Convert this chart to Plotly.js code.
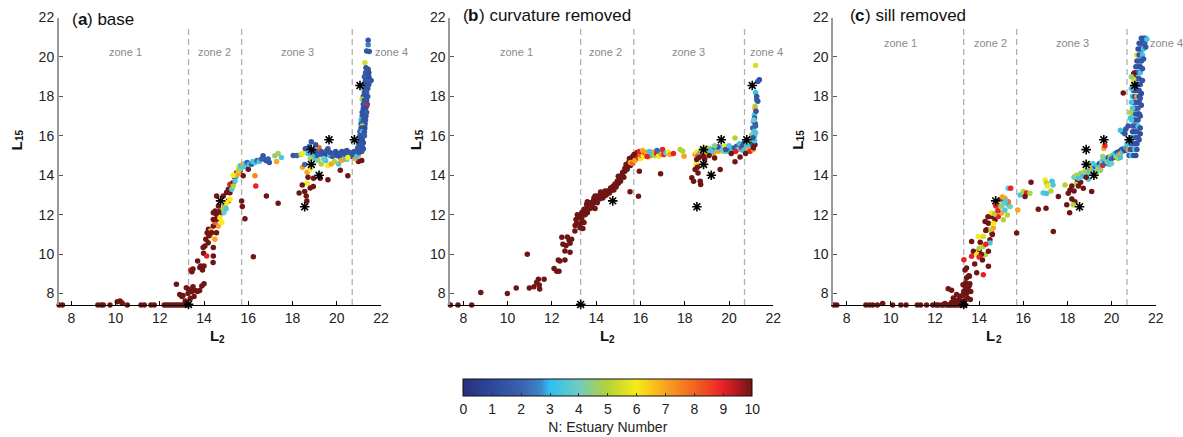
<!DOCTYPE html>
<html><head><meta charset="utf-8">
<script src="https://cdn.plot.ly/plotly-3.0.1.min.js"></script>
<style>html,body{margin:0;padding:0;background:#fff}#c{width:1183px;height:437px}</style>
</head><body><div id="c"></div>
<script>
// ---------- DATA ----------
const xTicks = [8,10,12,14,16,18,20,22];
const yTicks = [8,10,12,14,16,18,20,22];
const nTicks = [0,1,2,3,4,5,6,7,8,9,10];
const zoneBounds = [13.3, 15.7, 20.7];
const zoneLabels = ['zone 1','zone 2','zone 3','zone 4'];
const panelLetters = ['a','b','c'];
const panelNames = ['base','curvature removed','sill removed'];
const xTitle = ['L','2'];
const yTitle = ['L','15'];
const cbTitle = 'N: Estuary Number';
const colorStops = [[0,'#27307f'],[0.1,'#2d489b'],[0.2,'#3a62ad'],[0.27,'#3e86c9'],[0.3,'#2fc0f0'],[0.4,'#70cbc2'],[0.5,'#b3d336'],[0.6,'#f7ea1a'],[0.7,'#f8a41e'],[0.8,'#f26522'],[0.9,'#e82127'],[1,'#701515']];
// reference estuaries (stars), [L2, L15]
const starPts = [[13.3,7.45],[14.75,12.7],[18.55,12.4],[18.85,14.55],[18.85,15.3],[19.2,14.0],[19.65,15.8],[20.8,15.8],[21.05,18.55]];

// panel (a): [L2, L15, N]
const basePts = [
[7.45,7.42,10],[7.6,7.42,10],[9.2,7.42,10],[9.35,7.42,10],[9.45,7.42,10],[9.75,7.42,10],[10.08,7.58,10],[10.2,7.62,10],[10.3,7.52,10],[10.53,7.42,10],[11.15,7.42,10],[11.3,7.42,10],[11.6,7.42,10],[11.75,7.42,10],[12.2,7.42,10],[12.3,7.42,10],[12.4,7.42,10],[12.5,7.42,10],[12.6,7.42,10],[12.7,7.42,10],[12.8,7.42,10],[12.9,7.42,10],[13.0,7.42,10],[13.1,7.42,10],[13.2,7.42,10],
[12.75,8.47,10],[12.9,7.95,10],[13.05,7.9,10],[13.0,7.85,10],[13.15,7.62,10],[13.2,8.3,10],[13.28,8.0,10],[13.3,8.22,10],[13.38,7.75,10],[13.45,8.1,10],[13.5,8.35,10],[13.55,7.85,10],[13.6,8.15,10],[13.7,8.1,10],[13.8,8.15,10],[13.9,8.38,10],[14.0,8.5,10],
[13.4,9.2,9],[13.5,9.25,10],[13.45,9.1,10],[13.71,9.65,10],[13.81,9.32,10],[13.93,9.2,10],[14.0,9.4,10],[13.85,9.4,10],[13.96,10.33,10],[14.04,10.41,10],[13.98,10.05,10],[14.12,9.9,9],[14.42,10.33,10],[14.42,9.9,10],[14.41,9.57,10],[14.08,10.75,10],[14.19,10.58,10],[14.27,10.92,7],[14.2,11.26,10],[14.3,11.18,7],[14.49,10.75,7],[14.57,11.09,6],[14.64,11.43,7],[14.42,11.43,10],[14.14,11.08,10],[14.22,10.95,10],[14.34,11.08,10],[14.56,11.08,10],[14.5,11.6,8],[14.57,11.77,10],[14.42,11.76,10],[14.56,12.01,10],[14.42,12.1,10],[14.5,12.19,10],[14.65,12.44,10],[14.57,12.95,10],[14.72,12.18,10],[14.8,12.1,10],[14.87,12.95,10],[15.02,13.12,10],[15.1,13.29,10],[15.17,13.54,9],[15.32,13.63,10],[15.4,13.88,10],[15.77,13.97,10],[14.94,12.43,10],[15.09,12.69,10],[15.17,13.11,10],[15.24,13.36,10],[15.47,14.12,10],[15.62,14.22,10],
[14.72,11.85,6],[14.87,12.27,5],[14.95,12.44,5],[15.02,12.61,6],[15.17,12.78,6],[14.8,11.6,6],[14.9,12.1,4],[15.0,12.3,3.5],[15.25,13.29,3.5],[15.32,13.46,5],[15.4,13.71,3.5],[15.47,13.97,3.5],[15.55,14.14,7],[15.5,14.05,7],[15.32,14.0,6],[15.58,14.26,6],[15.56,14.4,6],[15.7,14.39,3.5],[15.6,14.3,4.5],[15.65,14.5,3.3],[15.75,14.55,7],[15.8,14.45,3.5],[15.85,14.6,4],[15.92,14.48,3.5],[16.0,14.3,10],[15.95,14.65,2],[16.05,14.55,3.3],[16.15,14.56,1.8],[16.2,14.7,3.5],[16.3,14.65,3.3],[16.4,14.75,2],[16.5,14.7,3.5],[16.6,14.82,1.8],[16.67,14.99,1.5],[16.75,14.8,2],[16.82,14.73,1.5],[16.9,14.82,1.8],[16.95,14.65,1.5],[17.2,14.99,4.5],[17.35,15.1,4.8],[17.28,14.7,7],[17.5,14.9,3.5],
[16.3,13.97,7.5],[16.34,13.46,9],[16.82,12.95,10],[17.35,12.58,10],[15.7,12.69,10],[15.73,12.41,10],[15.85,11.8,10],[16.23,9.87,10],
[18.45,14.4,7],[18.66,14.15,7],[18.8,14.3,6],[18.66,13.6,6],[18.44,13.5,10],[18.3,13.1,10],[18.55,13.18,10],[18.62,12.95,10],[18.65,12.7,10],[18.8,13.35,10],[18.94,13.43,10],[18.95,13.85,10],[19.25,13.85,10],[19.6,13.77,10],[20.16,14.25,10],[20.5,13.97,10],[20.98,14.7,10],[21.13,14.75,10],[18.7,13.9,10],
[18.03,15.0,1.5],[18.2,15.0,1.8],[18.38,15.05,5],[18.44,15.1,6],[18.55,14.55,2],[18.58,15.35,1.5],[18.75,15.44,1.5],[18.7,15.1,3.3],[18.94,15.27,1.5],[19.0,14.85,3.5],[19.1,15.0,1.5],[19.2,15.4,8],[19.3,14.57,5],[19.38,15.0,1.5],[19.5,15.1,1.8],[19.6,14.5,6],[19.75,14.57,7],[19.68,15.0,3.3],[19.85,15.1,1.5],[20.0,15.0,1.5],[20.08,14.57,3.5],[20.16,14.9,1.5],[20.23,15.2,1.5],[20.38,15.05,1.5],[20.46,14.8,4.5],[20.53,15.1,1.5],[20.68,14.95,1.5],[20.83,14.85,7],[20.91,15.1,6],[20.98,15.0,7],[21.06,15.35,1.5],[21.13,15.2,1.5],[21.2,15.35,1.5],
[18.9,15.05,1.2],[19.05,15.2,1.5],[19.2,15.05,1.8],[19.3,15.2,1.5],[19.45,15.0,1.2],[19.55,15.25,1.5],[19.7,15.15,1.5],[19.8,14.95,1.8],[19.95,15.2,1.5],[20.05,15.1,1.2],[20.15,15.05,1.5],[20.3,15.15,1.5],[20.45,15.0,1.5],[20.6,15.15,1.8],[20.7,15.05,1.5],[20.8,15.2,1.5],[20.9,14.95,3.3],[21.0,15.15,1.5],[19.15,14.75,4.5],[19.5,14.75,3.3],[19.9,14.7,5],[20.3,14.8,3.5],[20.2,14.75,7],[18.9,14.95,3.2],[18.8,14.85,4.8],[19.4,14.85,4],[19.6,15.35,1.5],[18.85,15.7,1.5],[19.05,15.55,1.5],[20.45,15.25,1.5],[20.5,14.9,6],
[21.42,20.84,1.5],[21.42,20.62,2.5],[21.35,20.3,1.5],[21.47,20.27,1.5],[21.27,19.7,5.5],[21.32,19.45,1.5],[21.42,19.37,1.5],[21.45,19.2,1.2],[21.3,19.2,1.5],[21.35,19.03,1.5],[21.25,19.0,1.8],[21.45,19.0,1.5],[21.47,18.86,1.2],[21.55,18.8,1.5],[21.3,18.8,1.5],[21.4,18.75,1.8],[21.25,18.6,1.5],[21.35,18.6,1.2],[21.45,18.6,1.5],[21.2,18.4,4.5],[21.3,18.4,1.5],[21.4,18.4,1.5],[21.25,18.2,1.5],[21.35,18.2,1.8],[21.2,18.0,1.5],[21.3,18.0,1.2],[21.4,18.0,1.5],[21.15,17.85,5],[21.25,17.8,1.5],[21.35,17.8,1.5],[21.2,17.6,1.5],[21.3,17.6,1.8],[21.38,17.6,1.5],[21.35,17.5,9],[21.2,17.4,1.5],[21.3,17.4,1.2],[21.15,17.2,1.5],[21.25,17.2,1.5],[21.35,17.2,1.8],[21.15,17.0,1.5],[21.25,17.0,1.2],[21.32,17.0,1.5],[21.1,16.8,3.2],[21.2,16.8,1.5],[21.3,16.8,1.5],[21.1,16.6,1.5],[21.2,16.6,1.8],[21.28,16.6,1.5],[21.15,16.5,5],[21.1,16.4,1.5],[21.2,16.4,1.5],[21.27,16.4,1.2],[21.05,16.2,1.5],[21.15,16.2,3.3],[21.25,16.2,1.5],[21.05,16.0,1.5],[21.15,16.0,1.5],[21.25,16.0,1.8],[21.05,15.8,1.5],[21.15,15.8,1.5],[21.2,15.65,1.2],[21.0,15.6,1.5],[21.1,15.6,1.5],[20.95,15.4,1.5],[21.05,15.45,1.8],[21.15,15.45,1.5]
];

// panel (b): [L2, L15, N]
const curvPts = [
[7.42,7.42,10],[7.76,7.42,10],[8.38,7.42,10],[8.79,8.05,10],[9.99,8.0,10],[10.39,8.28,10],[10.89,9.99,10],[10.98,8.28,10],[11.19,8.35,10],[11.31,8.56,10],[11.39,8.73,10],[11.43,8.44,10],[11.45,8.23,10],[11.65,8.73,10],[12.1,9.27,10],[12.22,9.13,10],[12.32,9.13,10],[12.29,9.7,10],[12.36,9.65,10],[12.59,9.7,10],[12.59,10.16,10],[12.82,10.1,10],[12.5,10.5,10],[12.45,10.85,10],[12.7,10.87,10],[12.78,10.7,10],[12.82,10.55,10],[12.64,10.44,10],[12.89,10.75,10],[13.04,11.17,10],[13.27,11.34,10],[13.09,11.76,10],[13.2,11.84,10],[13.35,12.1,10],[13.45,12.27,10],[13.57,12.52,10],[13.72,12.6,10],[13.87,12.69,10],[13.8,12.35,10],[13.95,12.32,10],[14.1,12.86,10],[14.25,12.94,10],[14.4,12.97,10],[14.55,13.11,10],[14.7,13.24,10],[14.78,13.45,10],[14.93,13.53,10],[15.08,13.78,10],[15.2,13.95,10],[15.3,14.2,10],[15.41,14.46,10],[15.5,14.71,10],[15.6,14.88,10],[15.71,15.05,10],[15.83,14.96,10],[15.53,13.16,10],[15.91,12.94,10],[15.95,14.2,10],[16.91,14.07,10],
[13.05,11.45,10],[13.12,11.55,10],[13.15,12.0,10],[13.25,11.95,10],[13.3,11.55,10],[13.35,11.8,10],[13.4,11.3,10],[13.45,11.6,10],[13.4,12.05,10],[13.5,12.0,10],[13.55,12.3,10],[13.6,12.1,10],[13.65,12.45,10],[13.7,12.3,10],[13.75,12.5,10],[13.85,12.55,10],[13.9,12.85,10],[14.0,12.75,10],[14.05,12.95,10],[14.15,12.8,10],[14.2,13.0,10],[14.3,12.85,10],[14.35,13.05,10],[14.45,13.0,10],[14.5,13.2,10],[14.6,13.1,10],[14.65,13.35,10],[14.75,13.4,10],[14.8,13.25,10],[14.85,13.55,10],[14.9,13.4,10],[14.95,13.7,10],[15.0,13.6,10],[15.05,13.85,10],[15.1,13.7,10],[15.15,14.0,10],[15.2,14.15,10],[15.25,13.9,10],[15.3,14.35,10],[15.35,14.55,10],[15.4,14.3,10],[15.45,14.6,10],[15.5,14.85,10],[15.55,14.5,10],[15.6,14.7,10],[15.65,14.95,10],[15.7,14.8,10],[15.75,15.0,10],[15.8,14.85,10],[14.2,13.15,10],[14.4,13.2,10],[13.6,12.65,10],[13.95,12.95,10],[15.0,13.95,10],[14.05,12.6,10],
[15.55,14.65,7],[15.65,14.6,8],[15.75,14.75,7],[15.85,15.15,10],[15.9,14.9,9],[15.98,15.13,7],[16.0,14.85,6],[16.05,15.0,8],[16.13,14.96,6],[16.2,15.15,9],[16.28,15.13,7],[16.36,14.93,6],[16.45,15.0,8],[16.51,15.05,3.5],[16.58,15.17,7],[16.65,15.0,5],[16.73,15.1,9],[16.81,14.96,6],[16.88,15.17,3.5],[16.95,15.05,7],[17.0,15.3,9],[17.06,15.05,9],[17.15,15.13,3.5],[17.26,15.17,6],[17.34,15.05,7],[17.49,15.1,9],[17.79,15.3,5],[17.91,15.22,5],[17.97,14.96,7],[15.95,15.2,9],[16.1,15.25,7],[16.3,14.95,9],[16.4,15.2,3.3],[16.75,15.25,2],
[18.47,15.05,7],[18.54,15.17,6],[18.6,15.0,8],[18.69,15.13,3.5],[18.8,15.05,9],[18.9,15.2,4],[18.99,15.39,5],[19.07,15.17,3.5],[19.15,15.35,4.5],[19.22,15.3,3.3],[19.3,15.1,7],[19.37,15.39,1.8],[19.45,15.25,3.5],[19.52,15.22,7],[19.6,15.35,3.3],[19.67,15.39,3.5],[19.75,15.2,4.5],[19.82,15.47,6],[19.9,15.22,3.3],[19.98,15.35,2],[20.05,15.39,1.8],[20.1,15.2,3.5],[20.17,15.3,3.3],[20.27,15.89,5],[20.25,15.4,1.5],[20.35,15.47,1.8],[20.4,15.3,3.5],[20.47,15.6,3.3],[20.5,15.3,4],[20.57,15.39,9],[20.62,15.5,1.5],[20.68,15.64,1.8],[20.75,15.35,3.5],[20.8,15.5,3.3],[20.85,15.3,7],[20.92,15.72,5],[20.95,15.22,9],[21.02,15.47,3.5],[21.05,15.6,1.5],[21.1,15.3,7],[21.1,15.4,10],[21.17,15.55,10],[21.15,15.75,3.3],[19.5,15.45,1.5],[19.2,15.2,3.5],[18.95,15.05,6],[19.85,15.3,1.5],[20.3,15.2,9],[20.65,15.25,3.3],[18.75,15.3,5],[19.35,15.5,4.5],[20.0,15.5,3.5],
[18.32,13.87,10],[18.4,13.7,10],[18.47,14.29,10],[18.6,14.12,10],[18.7,13.7,10],[18.72,13.53,10],[18.52,14.55,6],[18.9,14.83,10],[19.35,14.88,10],[19.6,14.29,10],[20.27,14.68,10],[20.5,14.93,10],[18.57,14.41,10],[18.54,14.8,10],[18.84,14.96,10],[18.65,14.9,10],[20.1,15.1,10],[20.75,15.1,10],[19.1,15.0,10],
[21.2,19.57,5.5],[21.37,18.84,1.2],[21.3,18.76,1.5],[21.2,18.2,3.2],[21.25,17.83,2],[21.3,17.75,1.5],[21.18,17.5,4.8],[21.18,17.36,7],[21.15,17.07,3.3],[21.15,16.9,1.8],[21.1,16.73,3.3],[21.18,16.62,1.5],[21.07,16.4,2],[21.13,16.23,3.3],[21.03,16.06,4.5],[21.15,15.98,3.3],[21.08,15.9,1.5],[21.2,16.5,2],[21.22,17.25,1.5],[21.25,18.0,1.5],[21.2,16.15,3.5],[21.12,16.8,4]
];

// panel (c): [L2, L15, N]
const sillPts = [
[7.42,7.42,10],[7.55,7.42,10],[8.87,7.42,10],[9.03,7.42,10],[9.18,7.42,10],[9.39,7.42,10],[9.63,7.5,10],[10.08,7.42,10],[10.45,7.42,10],[10.69,7.42,10],[11.2,7.42,10],[11.35,7.42,10],[11.62,7.42,10],[11.9,7.42,10],[12.05,7.42,10],[12.15,7.42,10],[12.3,7.42,10],[12.38,7.42,10],[12.53,7.42,10],[12.62,7.42,10],[12.7,7.42,10],[12.8,7.42,10],[12.9,7.42,10],[13.0,7.42,10],[13.1,7.42,10],[13.2,7.42,10],[13.35,7.42,10],[12.45,7.5,10],[12.75,7.55,10],[13.05,7.5,10],
[12.6,8.24,10],[12.75,8.17,10],[12.83,7.78,10],[12.98,7.95,10],[12.9,7.6,10],[13.13,7.87,10],[13.2,7.6,10],[13.1,7.7,10],[13.43,8.0,10],[13.5,8.2,10],[13.55,8.4,10],[13.58,8.5,10],[13.47,7.78,10],[13.27,8.45,10],[13.43,8.8,10],[13.53,8.9,10],[13.3,8.1,10],[13.35,7.65,10],[13.6,7.7,10],[13.38,8.3,10],[13.25,7.9,10],[13.62,8.1,10],[13.0,7.65,10],[13.4,8.55,10],
[13.31,9.72,9],[13.36,9.2,10],[13.43,9.3,10],[13.56,8.88,10],[13.66,9.89,9],[13.66,10.64,10],[13.74,10.14,10],[13.89,9.05,10],[13.96,10.9,6],[14.01,10.22,10],[13.9,10.0,6],[14.0,10.3,5],[14.19,10.9,5.5],[14.19,8.96,9],[14.27,9.97,5],[14.42,9.38,10],[14.42,10.14,10],[14.49,10.73,10],[14.57,11.07,9],[14.27,11.66,10],[14.42,11.57,10],[14.57,11.91,10],[14.72,11.74,10],[14.87,11.91,9],[15.02,12.08,7],[15.1,11.74,5],[15.17,12.24,3.5],[15.28,11.99,5],[15.32,12.5,3.5],[15.4,12.41,4],[15.32,13.34,3.5],[15.43,13.34,9],[14.8,12.41,7],[14.95,12.75,10],[15.17,12.83,7],[15.32,12.66,8],[14.57,12.08,6],[14.34,11.24,10],[14.64,11.32,7],[14.49,10.56,3.5],[14.19,10.39,5],[14.3,10.5,9],[14.1,10.0,10],[13.8,9.5,10],[14.0,9.85,9],[14.5,11.2,5],[14.65,11.55,6],[14.7,12.05,5],[14.85,12.2,9],[14.9,12.6,6],[15.0,12.4,4.5],[15.05,12.9,7],[15.1,12.55,4],[15.2,12.7,3.5],[14.4,11.9,10],[14.3,11.2,10],[14.05,10.6,10],[14.15,9.7,10],[14.6,11.0,10],[14.75,12.45,9],
[15.75,12.24,7],[15.7,11.07,10],[15.85,13.0,3.5],[16.0,13.17,5],[16.15,13.1,9],[16.3,13.09,5],[16.08,12.92,10],[16.35,13.64,10],[16.68,12.28,10],[17.03,12.33,10],[16.9,13.1,3.5],[17.05,13.07,3.3],[16.99,13.76,6],[17.05,13.6,5],[17.1,13.45,6],[17.3,13.7,3.3],[17.35,13.5,3.5],[17.25,13.2,5],[17.36,11.15,10],[17.59,12.92,10],[17.89,13.51,5],[17.97,12.5,10],[18.04,13.09,10],[18.12,13.25,10],[18.2,13.45,10],[18.3,13.2,10],[18.34,12.66,10],[18.27,12.5,5],[18.42,13.59,5],[18.5,13.45,10],[18.72,13.34,10],[19.1,13.17,10],[18.1,12.1,10],[18.2,12.8,10],[18.45,13.8,10],[18.6,13.65,10],
[18.3,13.9,4],[18.4,14.0,5],[18.5,13.85,3.5],[18.6,14.1,4.5],[18.7,13.95,3.2],[18.8,14.2,5],[18.9,14.05,4],[18.95,13.8,3.5],[19.0,14.25,3.3],[19.05,14.4,7],[19.1,14.15,4.5],[19.2,14.3,3.5],[19.25,14.45,2],[19.3,14.2,4],[19.35,14.5,3.2],[19.4,14.35,5],[19.45,14.6,1.5],[19.5,14.45,3.5],[19.55,14.7,4],[19.6,14.5,9],[19.65,14.75,3.3],[19.7,14.6,2],[19.75,14.85,3.5],[19.8,14.7,4.5],[19.85,14.9,1.5],[19.9,14.75,3.2],[19.95,14.95,5],[20.0,14.85,2],[20.05,15.0,3.5],[20.1,14.9,1.5],[20.15,15.1,3.2],[20.2,14.95,4.5],[20.25,15.15,1.5],[20.3,15.05,3.5],[20.35,15.2,1.2],[20.4,15.1,7],[20.45,15.3,1.5],[20.5,15.2,3.3],[20.55,15.35,1.5],[20.6,15.25,1.2],[20.65,15.4,3.2],[20.7,15.3,1.5],[19.65,15.36,7],[19.7,15.5,9],[18.95,14.55,5],[19.15,14.6,3.5],[19.5,14.25,4.5],[19.9,14.55,3.5],[20.3,14.85,5],[18.85,13.9,10],[19.6,14.95,4.5],[20.0,14.6,4],[20.4,14.9,3.3],[19.3,14.05,5],
[20.8,15.0,1.5],[20.9,15.0,3.3],[21.0,15.0,1.5],[21.1,15.0,1.2],[20.75,15.3,7],[20.85,15.3,1.5],[20.95,15.3,1.5],[21.05,15.3,3.5],[21.15,15.3,1.5],[20.85,15.6,1.5],[20.95,15.6,1.8],[21.05,15.6,1.5],[21.15,15.6,1.2],[20.7,15.6,3.3],[20.9,15.9,1.5],[21.0,15.9,3.3],[21.1,15.9,1.5],[21.2,15.9,1.5],[20.95,16.2,1.5],[21.05,16.2,1.2],[21.15,16.2,1.5],[20.5,16.2,1.5],[20.4,16.28,3.2],[20.6,16.1,1.5],[20.95,16.5,2],[21.05,16.5,1.5],[21.15,16.5,1.5],[21.2,16.5,3.3],[20.75,16.5,1.5],[21.0,16.8,1.5],[21.1,16.8,1.2],[21.2,16.8,1.5],[20.9,16.8,3.5],[21.0,17.1,3.3],[21.1,17.1,1.5],[21.2,17.1,1.5],[21.25,17.1,1.2],[21.0,17.4,1.5],[21.1,17.4,1.5],[21.2,17.4,1.8],[20.95,17.4,3.5],[21.0,17.7,1.5],[21.1,17.7,1.2],[21.2,17.7,1.5],[21.25,17.7,1.5],[20.95,18.0,3.3],[21.05,18.0,1.5],[21.15,18.0,7],[21.25,18.0,1.5],[21.0,18.3,1.5],[21.1,18.3,1.5],[21.2,18.3,1.2],[21.25,18.3,1.5],[21.0,18.6,5.5],[21.1,18.6,1.5],[21.2,18.6,1.5],[21.3,18.6,1.5],[21.05,18.9,1.5],[21.15,18.9,1.2],[21.25,18.9,1.5],[21.0,18.85,5.5],[21.05,19.2,10],[21.15,19.2,1.5],[21.25,19.2,1.5],[21.3,19.2,3.3],[21.1,19.5,1.5],[21.2,19.5,1.5],[21.3,19.5,1.2],[21.15,19.8,1.5],[21.25,19.8,1.5],[21.35,19.8,1.5],[21.15,20.1,5.5],[21.25,20.1,1.5],[21.35,20.1,1.5],[21.4,20.1,3.3],[21.2,20.4,1.5],[21.3,20.4,1.2],[21.4,20.4,1.5],[21.45,20.4,3.3],[21.25,20.7,1.5],[21.35,20.7,1.5],[21.45,20.7,1.5],[21.5,20.7,1.8],[21.35,20.95,1.5],[21.45,20.95,1.5],[21.52,20.95,1.5],[20.53,18.17,10],[21.0,19.15,10],
[21.3,17.0,1.5],[21.35,17.55,1.5],[21.35,18.15,1.2],[21.4,18.8,1.5],[21.4,19.4,1.5],[21.45,19.9,1.5],[21.55,20.5,1.5],[21.6,20.9,3.3],[20.85,16.9,3.3],[20.9,17.7,3.3],[20.9,18.4,3.3],[21.3,16.4,1.5],[21.25,15.8,1.5],[21.3,16.1,1.2],[20.65,16.35,1.5],[20.85,17.2,5],[21.3,17.9,1.5],[20.9,19.0,4.5]
];

// ---------- LAYOUT HELPERS ----------
const W = 1183, H = 437;
const FONT = 'Liberation Sans, Arial, Helvetica, sans-serif';
const panels = [
  {pts: basePts, xl: 59, xr: 381, xmin: 7.444, sfx: ''},
  {pts: curvPts, xl: 450.3, xr: 773.3, xmin: 7.413, sfx: '2'},
  {pts: sillPts, xl: 833.3, xr: 1155.7, xmin: 7.393, sfx: '3'}
];
const yDom = [1 - 305/H, 1 - 17.5/H];
const yRange = [7.42, 22];

const traces = [];
const layout = {
  width: W, height: H, margin: {l:0, r:0, t:0, b:0},
  paper_bgcolor: '#fff', plot_bgcolor: 'rgba(0,0,0,0)',
  showlegend: false, font: {family: FONT, color: '#222', size: 14},
  shapes: [], annotations: []
};

panels.forEach((p, i) => {
  const xa = 'x' + p.sfx, ya = 'y' + p.sfx;
  const t = {
    type: 'scatter', mode: 'markers', xaxis: xa, yaxis: ya, cliponaxis: false,
    x: p.pts.map(d => d[0]), y: p.pts.map(d => d[1]),
    marker: {size: 5.5, color: p.pts.map(d => d[2]), colorscale: colorStops, cmin: 0, cmax: 10,
             line: {width: 0}, showscale: i === 0},
    hoverinfo: 'skip'
  };
  if (i === 0) {
    t.marker.colorbar = {
      orientation: 'h', x: 607.8/W, xanchor: 'center', y: 1 - 379/H, yanchor: 'top',
      len: 289/W, lenmode: 'fraction', thickness: 17, thicknessmode: 'pixels',
      xpad: 0, ypad: 0, outlinecolor: '#111', outlinewidth: 1,
      tickvals: nTicks, ticks: 'inside', ticklen: 3, tickcolor: '#333',
      tickfont: {size: 14, family: FONT, color: '#222'},
      title: {text: cbTitle, side: 'bottom', font: {size: 14, family: FONT, color: '#222'}}
    };
  }
  traces.push(t);
  traces.push({
    type: 'scatter', mode: 'markers', xaxis: xa, yaxis: ya, cliponaxis: false,
    x: starPts.map(d => d[0]), y: starPts.map(d => d[1]),
    marker: {symbol: 'asterisk-open', size: 8, color: '#000', line: {color: '#000', width: 1.6}},
    hoverinfo: 'skip'
  });

  layout['xaxis' + p.sfx] = {
    domain: [p.xl/W, p.xr/W], range: [p.xmin, 22], anchor: ya,
    tickvals: xTicks, ticks: 'inside', ticklen: 4, tickcolor: '#000',
    showline: true, linecolor: '#000', linewidth: 1, showgrid: false, zeroline: false,
    tickfont: {size: 14, family: FONT, color: '#222'}
  };
  layout['yaxis' + p.sfx] = {
    domain: yDom, range: yRange, anchor: xa,
    tickvals: yTicks, ticks: 'inside', ticklen: 4, tickcolor: '#555',
    showline: true, linecolor: '#9a9a9a', linewidth: 2, showgrid: false, zeroline: false,
    tickfont: {size: 14, family: FONT, color: '#222'}
  };

  zoneBounds.forEach(z => {
    layout.shapes.push({type: 'line', xref: xa, yref: ya, x0: z, x1: z, y0: yRange[0], y1: 21.45,
      line: {color: '#b0b0b0', width: 1.3, dash: '6px,4px'}, layer: 'below'});
  });
});

// text helpers (pixel positions -> paper coords), plain text pieces only
const pxX = v => v / W, pxY = v => 1 - v / H;
function txt(text, x, y, size, opts) {
  const o = Object.assign({xanchor: 'left', yanchor: 'middle', weight: 'normal', color: '#111', angle: 0}, opts || {});
  layout.annotations.push({xref: 'paper', yref: 'paper', x: pxX(x), y: pxY(y), xanchor: o.xanchor, yanchor: o.yanchor,
    showarrow: false, text: text, textangle: o.angle,
    font: {size: size, family: FONT, color: o.color, weight: o.weight}});
}
const titlePos = [[70, 20], [460.7, 16], [847.7, 16]];
const letterW = [9.5, 10.4, 9.5];
const l2Pos = [217, 606.7, 993.3];
const l15Pos = [17, 416.7, 798.3];
const zonePos = [
  {y: 52, xs: [125, 214, 297, 373], a: ['center','center','center','left']},
  {y: 51.7, xs: [516, 605.7, 688.3, 766.7], a: ['center','center','center','center']},
  {y: 43.3, xs: [900.7, 990, 1072.3, 1166], a: ['center','center','center','center']}
];
for (let i = 0; i < 3; i++) {
  const [tx, ty] = titlePos[i];
  txt('(', tx, ty, 17);
  txt(panelLetters[i], tx + 5.7, ty, 17, {weight: 'bold'});
  txt(') ' + panelNames[i], tx + 5.7 + letterW[i], ty, 17);
  // x title: bold L with subscript 2
  txt(xTitle[0], l2Pos[i] - 9, 335, 15, {weight: 'bold'});
  txt(xTitle[1], l2Pos[i] + 0.5, 339, 10, {weight: 'bold'});
  // y title rotated: bold L with subscript 15
  txt(yTitle[0], l15Pos[i] - 1, 152, 15, {weight: 'bold', angle: -90, xanchor: 'center', yanchor: 'bottom'});
  txt(yTitle[1], l15Pos[i] + 3, 143, 10, {weight: 'bold', angle: -90, xanchor: 'center', yanchor: 'bottom'});
  zoneLabels.forEach((z, k) => {
    txt(z, zonePos[i].xs[k], zonePos[i].y, 11, {xanchor: zonePos[i].a[k], color: '#8a8a8a'});
  });
}

Plotly.newPlot('c', traces, layout, {staticPlot: true, displayModeBar: false});
</script></body></html>
